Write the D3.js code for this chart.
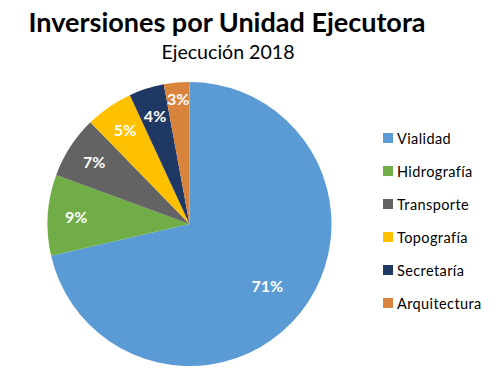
<!DOCTYPE html>
<html><head><meta charset="utf-8">
<script src="https://cdn.jsdelivr.net/npm/d3@7"></script>
<style>body{margin:0;background:#fff}svg{display:block}</style>
</head><body><svg id="c" width="501" height="381"></svg>
<script>
const categories = ["Vialidad","Hidrografía","Transporte","Topografía","Secretaría","Arquitectura"];
const values = [71.4, 9.2, 7.1, 5.4, 4.0, 2.9];
const colors = ["#5B9BD5","#70AD47","#636363","#FFC000","#1F3864","#D9843D"];
const title = "Inversiones por Unidad Ejecutora";
const subtitle = "Ejecución 2018";

const svg = d3.select("#c");
const font = "Lato, 'Open Sans', sans-serif";
const cx = 189.5, cy = 224, r = 142;

svg.append("text").attr("x", 227).attr("y", 32).attr("text-anchor","middle")
  .attr("font-family", font).attr("font-weight","bold").attr("font-size", 26)
  .attr("textLength", 397).attr("lengthAdjust","spacingAndGlyphs")
  .attr("fill","#000").text(title);
svg.append("text").attr("x", 228).attr("y", 59).attr("text-anchor","middle")
  .attr("font-family", font).attr("font-size", 19)
  .attr("textLength", 133).attr("lengthAdjust","spacingAndGlyphs")
  .attr("fill","#000").text(subtitle);

const total = d3.sum(values);
const pie = d3.pie().sort(null).value(d => d)(values);
const arc = d3.arc().innerRadius(0).outerRadius(r);
const g = svg.append("g").attr("transform", `translate(${cx},${cy})`);
g.selectAll("path").data(pie).enter().append("path")
  .attr("d", arc).attr("fill", (d,i) => colors[i]);

const maxV = d3.max(values);
g.selectAll("text.lbl").data(pie).enter().append("text")
  .attr("class","lbl")
  .attr("transform", d => {
    const span = d.endAngle - d.startAngle;
    const lr = d.value === maxV ? r*0.7 : Math.max(r*0.8, Math.min(r*0.88, 23/span));
    const a = d3.arc().innerRadius(lr).outerRadius(lr);
    const [x,y] = a.centroid(d);
    return `translate(${x},${y})`;
  })
  .attr("text-anchor","middle").attr("dy","0.36em")
  .attr("font-family", font).attr("font-weight","bold").attr("font-size", 16)
  .attr("fill","#fff")
  .text(d => Math.round(d.value/total*100) + "%");

const leg = svg.append("g");
const rowY = d3.scaleLinear().domain([0, categories.length-1]).range([138, 303]);
categories.forEach((c,i) => {
  leg.append("rect").attr("x", 383).attr("y", rowY(i)-5).attr("width", 10).attr("height", 10).attr("fill", colors[i]);
  leg.append("text").attr("x", 397).attr("y", rowY(i)+5.5)
    .attr("font-family", font).attr("font-size", 14.5).attr("letter-spacing", 0.4)
    .attr("fill","#000").text(c);
});
</script></body></html>
